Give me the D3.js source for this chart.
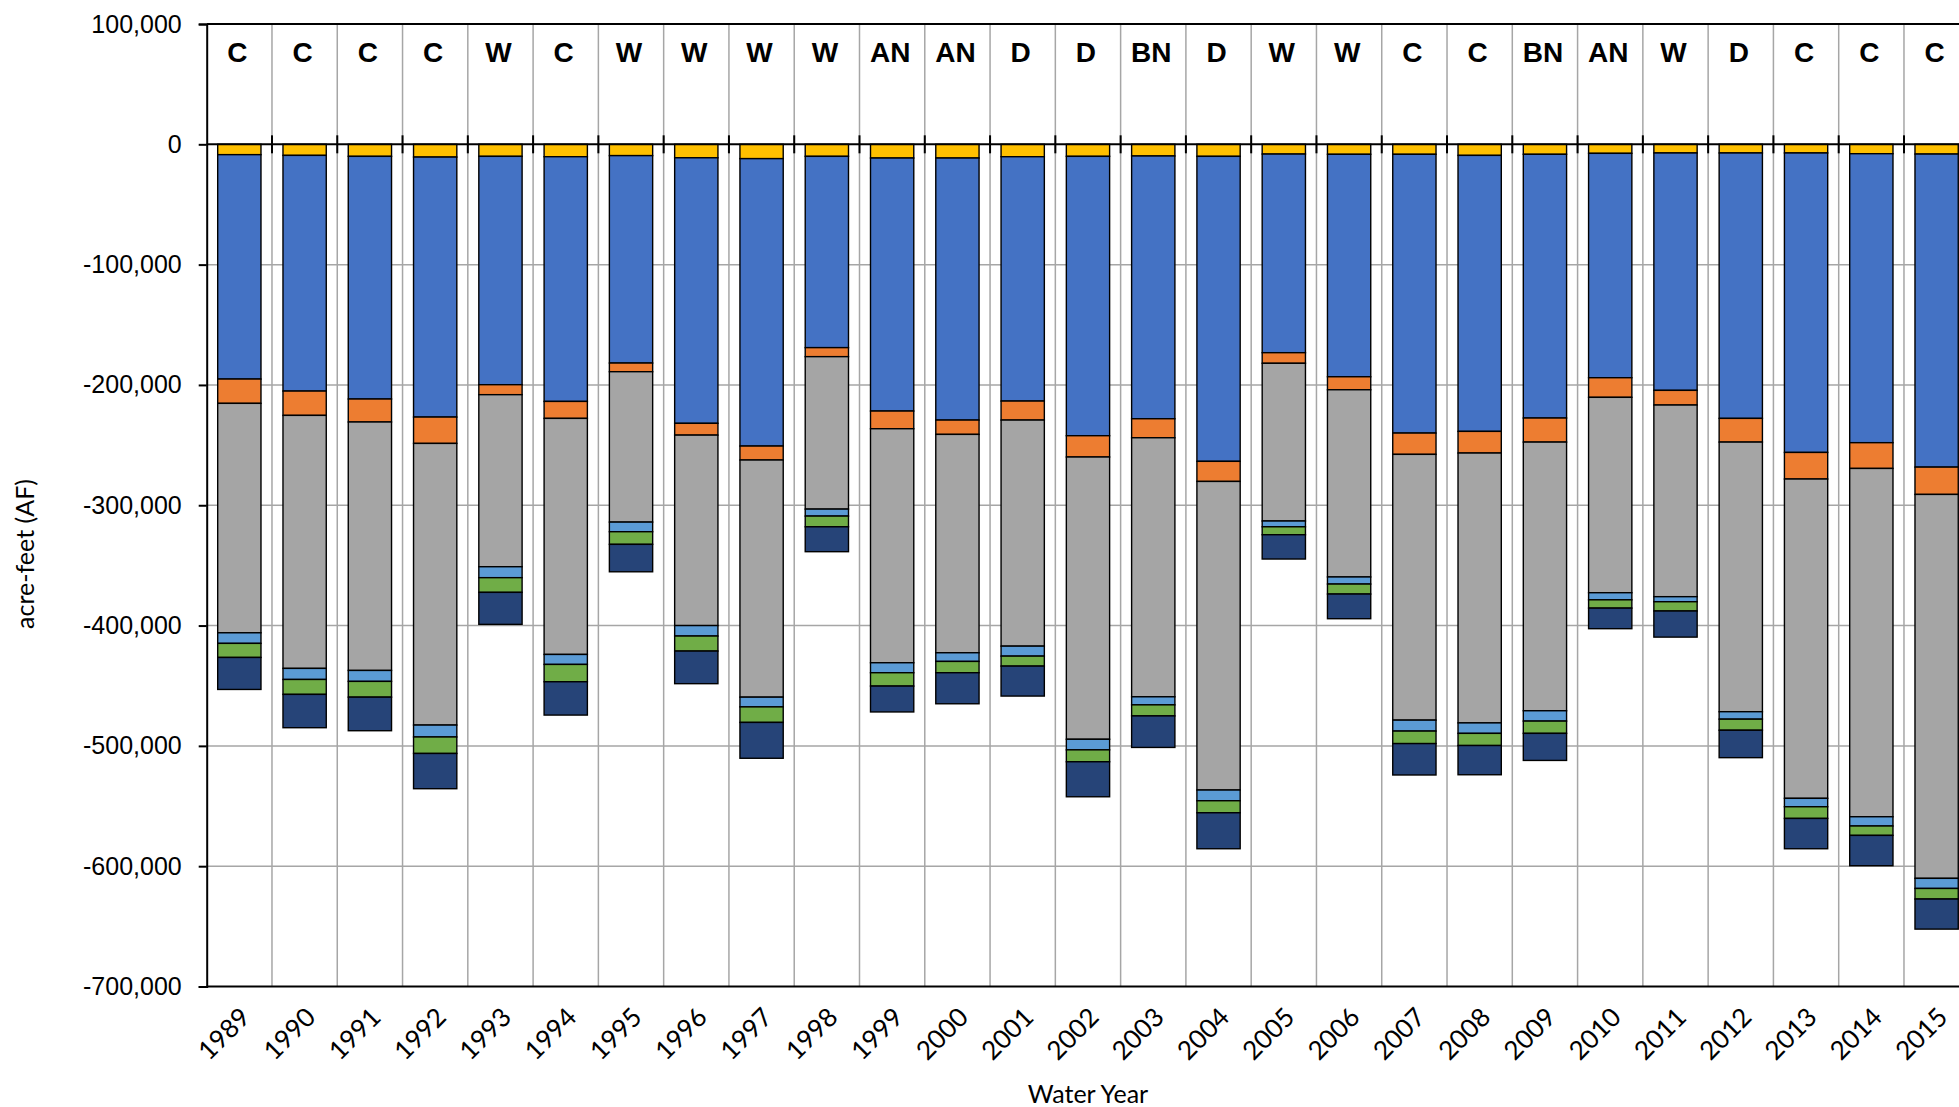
<!DOCTYPE html>
<html>
<head>
<meta charset="utf-8">
<script src="https://cdn.jsdelivr.net/npm/d3@7"></script>
<style>
  html, body { margin: 0; padding: 0; background: #fff; overflow: hidden; }
  svg { display: block; }
</style>
</head>
<body>
<svg id="chart" width="1959" height="1107"></svg>
<script>
// ---------------- DATA ----------------
const years = ["1989","1990","1991","1992","1993","1994","1995","1996","1997","1998","1999","2000","2001","2002","2003","2004","2005","2006","2007","2008","2009","2010","2011","2012","2013","2014","2015"];
const yearTypes = ["C","C","C","C","W","C","W","W","W","W","AN","AN","D","D","BN","D","W","W","C","C","BN","AN","W","D","C","C","C"];

// segment values (acre-feet), stacked downward from 0 in this order
const yellowSeries    = [-8600,-9200,-10000,-10600,-10000,-10300,-9400,-11200,-11900,-10000,-11400,-11400,-10300,-10000,-9700,-10000,-8100,-8300,-8300,-9200,-8300,-7500,-7200,-7200,-7200,-7800,-8100];
const blueSeries      = [-186500,-195900,-201700,-216100,-189800,-203400,-172400,-220700,-238900,-159000,-210300,-217800,-203100,-232200,-218400,-253500,-165100,-184900,-231700,-229400,-219200,-186500,-197300,-220600,-248900,-240200,-260200];
const orangeSeries    = [-20200,-20200,-19100,-21900,-8300,-14100,-7200,-9800,-11600,-7500,-14700,-11900,-15800,-17700,-15800,-16700,-8800,-10800,-17700,-18000,-20000,-16300,-12200,-19700,-22100,-21400,-22700];
const graySeries      = [-190700,-210300,-206500,-234100,-143000,-196200,-125000,-158300,-197100,-126700,-194500,-181500,-187900,-234600,-215300,-256500,-131100,-155600,-220900,-224300,-223300,-162400,-159300,-224100,-265400,-289500,-319100];
const lightBlueSeries = [-8800,-9200,-9100,-9900,-9100,-8300,-8000,-8700,-8100,-5800,-8300,-7200,-8300,-8800,-6700,-8900,-4800,-5900,-9100,-8700,-8600,-5900,-4200,-6200,-7000,-7700,-8400];
const greenSeries     = [-11700,-12400,-13100,-13700,-12200,-14400,-10500,-12500,-12900,-8900,-11100,-9400,-8300,-9900,-9200,-10000,-6600,-8300,-10400,-10100,-10200,-6900,-7700,-9200,-9700,-7800,-8800];
const navySeries      = [-26600,-27700,-27900,-29300,-26600,-27700,-22800,-27100,-29800,-20700,-21500,-25800,-24900,-29100,-26200,-29900,-20200,-20500,-26100,-24300,-22500,-17100,-21700,-22800,-25200,-25200,-25000];

const yTicks = [100000,0,-100000,-200000,-300000,-400000,-500000,-600000,-700000];

const seriesKeys = ["yellow","blue","orange","gray","lightBlue","green","navy"];
const seriesColors = {
  yellow: "#FFC000", blue: "#4472C4", orange: "#ED7D31", gray: "#A5A5A5",
  lightBlue: "#5B9BD5", green: "#70AD47", navy: "#264478"
};
const seriesData = {
  yellow: yellowSeries, blue: blueSeries, orange: orangeSeries, gray: graySeries,
  lightBlue: lightBlueSeries, green: greenSeries, navy: navySeries
};

// ---------------- LAYOUT ----------------
const svg = d3.select("#chart");
const plotLeft = 206.7, plotTop = 24, plotBottom = 986.5;
const band = 65.28;
const plotRight = plotLeft + band * years.length;

const x = d3.scaleBand().domain(years).range([plotLeft, plotRight])
  .paddingInner(0.337).paddingOuter(0.1685);
const y = d3.scaleLinear().domain([-700000, 100000]).range([plotBottom, plotTop]);

const table = years.map((yr, i) => {
  const row = { year: yr };
  seriesKeys.forEach(k => row[k] = seriesData[k][i]);
  return row;
});
const stacked = d3.stack().keys(seriesKeys).offset(d3.stackOffsetDiverging)(table);

const gridColor = "#A6A6A6";

// horizontal gridlines
svg.append("g").selectAll("line")
  .data(yTicks.filter(v => v !== 100000 && v !== 0 && v !== -700000))
  .join("line")
  .attr("x1", plotLeft).attr("x2", 1959)
  .attr("y1", d => y(d)).attr("y2", d => y(d))
  .attr("stroke", gridColor).attr("stroke-width", 1.5);

// vertical gridlines at category boundaries
const boundaries = d3.range(1, years.length + 1).map(i => plotLeft + i * x.step());
svg.append("g").selectAll("line")
  .data(boundaries)
  .join("line")
  .attr("x1", d => d).attr("x2", d => d)
  .attr("y1", plotTop).attr("y2", plotBottom)
  .attr("stroke", gridColor).attr("stroke-width", 1.5);

// bars
svg.append("g").selectAll("g")
  .data(stacked)
  .join("g")
  .attr("fill", d => seriesColors[d.key])
  .selectAll("rect")
  .data(d => d)
  .join("rect")
  .attr("x", d => x(d.data.year))
  .attr("width", x.bandwidth())
  .attr("y", d => Math.min(y(d[0]), y(d[1])))
  .attr("height", d => Math.abs(y(d[0]) - y(d[1])))
  .attr("stroke", "#000").attr("stroke-width", 1.4);

// top border and bottom axis line
svg.append("line").attr("x1", plotLeft).attr("x2", 1959)
  .attr("y1", y(100000)).attr("y2", y(100000)).attr("stroke", "#000").attr("stroke-width", 2);
svg.append("line").attr("x1", plotLeft).attr("x2", 1959)
  .attr("y1", y(-700000)).attr("y2", y(-700000)).attr("stroke", "#000").attr("stroke-width", 2);

// zero axis with crossing ticks
svg.append("line").attr("x1", plotLeft).attr("x2", 1959)
  .attr("y1", y(0)).attr("y2", y(0)).attr("stroke", "#000").attr("stroke-width", 2);
svg.append("g").selectAll("line")
  .data(boundaries)
  .join("line")
  .attr("x1", d => d).attr("x2", d => d)
  .attr("y1", y(0) - 9).attr("y2", y(0) + 9)
  .attr("stroke", "#000").attr("stroke-width", 2);

// left axis
const yAxis = d3.axisLeft(y).tickValues(yTicks).tickSize(8).tickPadding(17)
  .tickFormat(d => d3.format(",")(d).replace("\u2212", "-"));
const gy = svg.append("g").attr("transform", `translate(${plotLeft},0)`).call(yAxis);
gy.select(".domain").attr("stroke", "#000").attr("stroke-width", 2);
gy.selectAll(".tick line").attr("stroke", "#000").attr("stroke-width", 2);
gy.selectAll(".tick text")
  .attr("font-family", "'Liberation Sans', Arial, sans-serif")
  .attr("font-size", 25).attr("fill", "#000");

// water year type labels
svg.append("g").selectAll("text")
  .data(years)
  .join("text")
  .attr("x", d => x(d) + x.bandwidth() / 2 - 2)
  .attr("y", 62)
  .attr("text-anchor", "middle")
  .attr("font-family", "'Liberation Sans', Arial, sans-serif")
  .attr("font-weight", "bold")
  .attr("font-size", 28)
  .text((d, i) => yearTypes[i]);

// x-axis year labels (rotated)
svg.append("g").selectAll("text")
  .data(years)
  .join("text")
  .attr("transform", d => `translate(${x(d) + x.bandwidth() / 2 + 6},${plotBottom + 26}) rotate(-45)`)
  .attr("text-anchor", "end")
  .attr("dy", "0.35em")
  .attr("font-family", "Lato, 'Open Sans', sans-serif")
  .attr("font-size", 26)
  .text(d => d);

// axis titles
svg.append("text")
  .attr("transform", `translate(34,554) rotate(-90)`)
  .attr("text-anchor", "middle")
  .attr("font-family", "Lato, 'Open Sans', sans-serif")
  .attr("font-size", 25)
  .text("acre-feet (AF)");

svg.append("text")
  .attr("x", (plotLeft + plotRight) / 2)
  .attr("y", 1103)
  .attr("text-anchor", "middle")
  .attr("font-family", "Lato, 'Open Sans', sans-serif")
  .attr("font-size", 25)
  .text("Water Year");
</script>
</body>
</html>
